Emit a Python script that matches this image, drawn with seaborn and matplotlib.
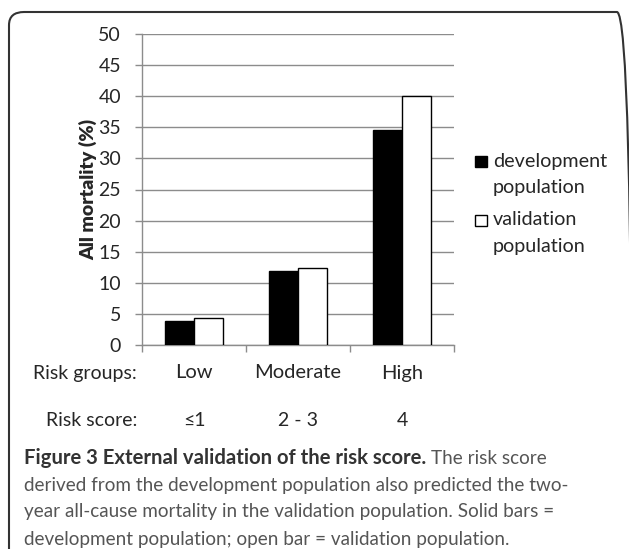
import matplotlib
matplotlib.use("Agg")
import matplotlib.pyplot as plt
import matplotlib.transforms as mtransforms
import seaborn as sns
import pandas as pd
from matplotlib.patches import FancyBboxPatch, Rectangle

# data
groups = ["Low", "Moderate", "High"]
scores = ["\u22641", "2 - 3", "4"]
development = [3.8, 11.9, 34.5]
validation = [4.3, 12.3, 40.0]
series = ["development population", "validation population"]

df = pd.DataFrame({
    "group": groups * 2,
    "series": [series[0]] * 3 + [series[1]] * 3,
    "value": development + validation,
})

sns.set_theme(style="white")
plt.rcParams["font.family"] = ["Lato", "DejaVu Sans"]

W, H = 629, 549
fig = plt.figure(figsize=(W / 100, H / 100), dpi=100)
ax = fig.add_axes([142 / W, 1 - 345 / H, 312 / W, 311 / H])

sns.barplot(data=df, x="group", y="value", hue="series", order=groups,
            hue_order=series, palette=["black", "white"], width=0.567,
            edgecolor="black", linewidth=1.0, ax=ax, legend=False, zorder=3)

ax.set_ylim(0, 50)
ax.set_xlim(-0.5, 2.5)
ax.set_yticks(range(0, 51, 5))
ax.tick_params(axis="y", labelsize=14, length=5, width=1, color="#8c8c8c",
               direction="out", pad=10, left=True)
ax.yaxis.grid(True, color="#8c8c8c", linewidth=1.0, zorder=0)
ax.set_xticks([-0.5, 0.5, 1.5, 2.5])
ax.set_xticklabels([])
ax.tick_params(axis="x", length=5, width=1, color="#8c8c8c", direction="out", bottom=True)
for s in ["top", "right"]:
    ax.spines[s].set_visible(False)
for s in ["left", "bottom"]:
    ax.spines[s].set_color("#8c8c8c")
    ax.spines[s].set_linewidth(1.0)
ax.set_xlabel("")
ax.set_ylabel("All mortality (%)", fontsize=14, fontweight="heavy", labelpad=1)

# category rows under the axis
tr = mtransforms.blended_transform_factory(ax.transData, fig.transFigure)
for i, (g, sc) in enumerate(zip(groups, scores)):
    ax.text(i, 1 - 373 / H, g, transform=tr, ha="center", va="center", fontsize=14.5)
    ax.text(i, 1 - 421 / H, sc, transform=tr, ha="center", va="center", fontsize=14)
fig.text(137 / W, 1 - 373 / H, "Risk groups:", ha="right", va="center", fontsize=14)
fig.text(137 / W, 1 - 421 / H, "Risk score:", ha="right", va="center", fontsize=14)

# legend: square marker next to the first line of each two-line label
for k, (col, name) in enumerate(zip(["black", "white"], series)):
    yc = [162, 220][k]
    fig.add_artist(Rectangle((475 / W, 1 - (yc + 5.5) / H), 12 / W, 11 / H,
                             transform=fig.transFigure, facecolor=col,
                             edgecolor="black", linewidth=1.0))
    first, second = name.split(" ")
    fig.text(493 / W, 1 - yc / H, first, ha="left", va="center", fontsize=14.2)
    fig.text(493 / W, 1 - (yc + 26) / H, second, ha="left", va="center", fontsize=14.2)

# frame around the figure
frame = FancyBboxPatch((9 / W, -0.05), (632 - 9) / W, 1 - 12 / H + 0.05,
                       boxstyle="round,pad=0,rounding_size=0.024",
                       transform=fig.transFigure, fill=False,
                       edgecolor="#333333", linewidth=1.5)
fig.patches.append(frame)

# caption
x0 = 24 / W
bold = fig.text(x0, 1 - 458 / H, "Figure 3 External validation of the risk score.",
                fontsize=14.6, fontweight="bold", color="#333333", va="center")
fig.canvas.draw()
bb = bold.get_window_extent()
fig.text(bb.x1 / W + 0.008, 1 - 458 / H, "The risk score",
         fontsize=13.6, color="#555555", va="center")
rest = ["derived from the development population also predicted the two-",
        "year all-cause mortality in the validation population. Solid bars =",
        "development population; open bar = validation population."]
for k, line in enumerate(rest):
    fig.text(x0, 1 - (485 + 27 * k) / H, line, fontsize=13.6,
             color="#555555", va="center")

fig.savefig("out.png", dpi=100)
